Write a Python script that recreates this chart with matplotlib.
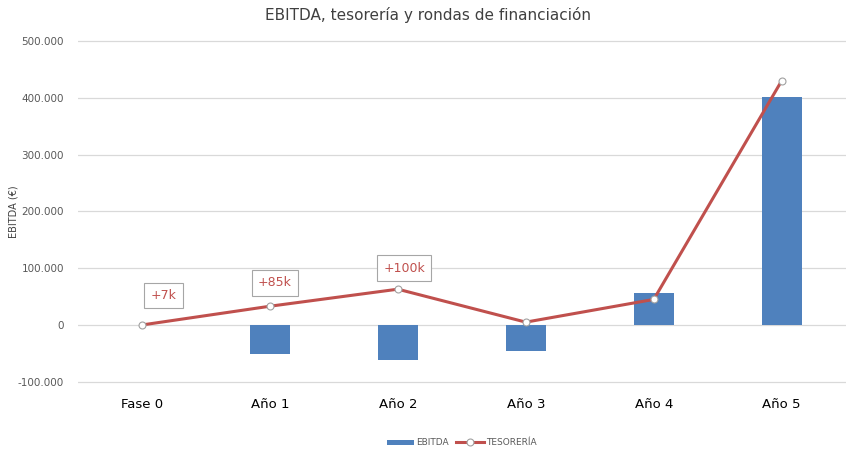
import matplotlib.pyplot as plt
from matplotlib.ticker import FuncFormatter

categorias = ["Fase 0", "Año 1", "Año 2", "Año 3", "Año 4", "Año 5"]
ebitda = [0, -51000, -62000, -46000, 57000, 401000]
tesoreria = [0, 33000, 63000, 5000, 45000, 430000]

# rondas de financiación (etiquetas en cajas)
rondas = ["+7k", "+85k", "+100k"]
rondas_x = [0.17, 1.04, 2.05]
rondas_y = [52000, 74000, 100000]

azul = "#4F81BD"
rojo = "#C0504D"

fig = plt.figure(figsize=(8.56, 4.54), dpi=100)
ax = fig.add_axes([0.091, 0.154, 0.897, 0.761])

x = list(range(len(categorias)))
barras = ax.bar(x, ebitda, width=0.31, color=azul, label="EBITDA", zorder=2)
linea, = ax.plot(x, tesoreria, color=rojo, linewidth=2.2, marker="o", markersize=5,
                 markerfacecolor="white", markeredgecolor="#A0A0A0", markeredgewidth=0.8,
                 label="TESORERÍA", zorder=3)

for txt, rx, ry in zip(rondas, rondas_x, rondas_y):
    ax.text(rx, ry, txt, color=rojo, fontsize=9, ha="center", va="center",
            bbox=dict(boxstyle="square,pad=0.5", facecolor="white", edgecolor="#A6A6A6", linewidth=0.8),
            zorder=4)

ax.set_xlim(-0.5, len(categorias) - 0.5)
ax.set_ylim(-104000, 504000)
ax.set_yticks(range(-100000, 500001, 100000))
ax.yaxis.set_major_formatter(FuncFormatter(lambda v, p: f"{int(v):,}".replace(",", ".")))
ax.set_xticks(x)
ax.set_xticklabels(categorias, fontsize=9.5, color="black")
ax.tick_params(axis="y", labelsize=7.5, colors="#595959", length=0, pad=10)
ax.tick_params(axis="x", length=0, pad=10)
ax.grid(axis="y", color="#D9D9D9", linewidth=0.9, zorder=0)
ax.set_axisbelow(True)
for s in ax.spines.values():
    s.set_visible(False)

ax.set_ylabel("EBITDA (€)", fontsize=7, color="#404040")
ax.yaxis.set_label_coords(-0.078, 0.5)
fig.suptitle("EBITDA, tesorería y rondas de financiación", fontsize=11, color="#404040", y=0.985)

ax.legend([barras, linea], ["EBITDA", "TESORERÍA"], loc="center",
          bbox_to_anchor=(0.5, -0.17), ncol=2, frameon=False,
          fontsize=6.5, labelcolor="#595959", handlelength=3, columnspacing=0.8,
          handletextpad=0.3, handleheight=0.5)

plt.savefig("out.png", dpi=100)
